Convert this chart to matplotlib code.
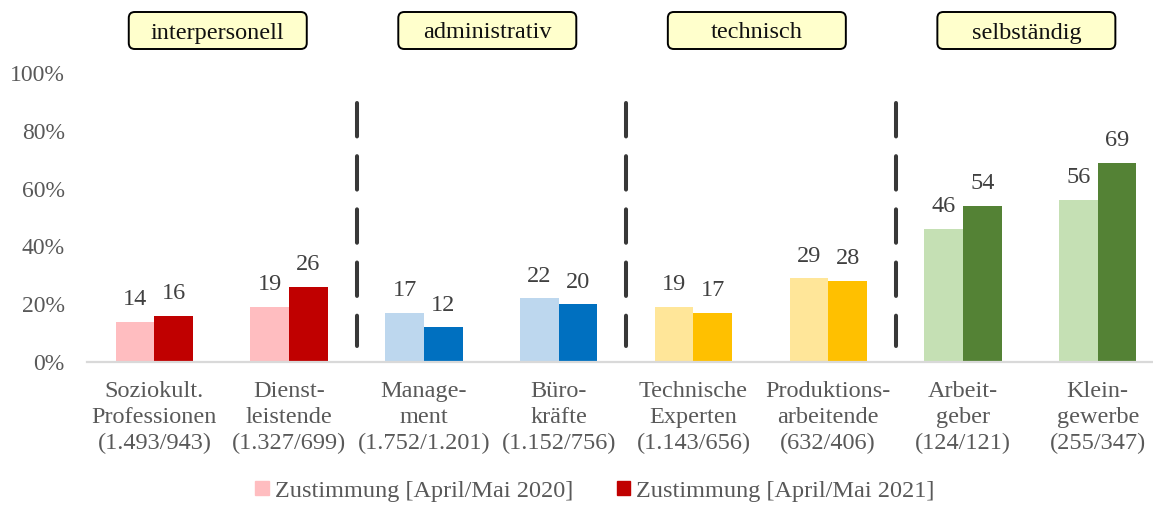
import matplotlib
matplotlib.use("Agg")
import matplotlib.pyplot as plt
import numpy as np
from matplotlib.patches import FancyBboxPatch, Patch

plt.rcParams["font.family"] = ["Liberation Serif", "DejaVu Serif"]

# data
categories = [
    "Soziokult.\nProfessionen\n(1.493/943)",
    "Dienst-\nleistende\n(1.327/699)",
    "Manage-\nment\n(1.752/1.201)",
    "Büro-\nkräfte\n(1.152/756)",
    "Technische\nExperten\n(1.143/656)",
    "Produktions-\narbeitende\n(632/406)",
    "Arbeit-\ngeber\n(124/121)",
    "Klein-\ngewerbe\n(255/347)",
]
zust_2020 = [14, 19, 17, 22, 19, 29, 46, 56]
zust_2021 = [16, 26, 12, 20, 17, 28, 54, 69]
series_names = ["Zustimmung [April/Mai 2020]", "Zustimmung [April/Mai 2021]"]
groups = ["interpersonell", "administrativ", "technisch", "selbständig"]

light_colors = ["#FFBDC0", "#FFBDC0", "#BDD7EE", "#BDD7EE",
                "#FFE699", "#FFE699", "#C5E0B4", "#C5E0B4"]
dark_colors = ["#C00000", "#C00000", "#0070C0", "#0070C0",
               "#FFC000", "#FFC000", "#548235", "#548235"]

W, H, DPI = 1153, 505, 100
fig = plt.figure(figsize=(W / DPI, H / DPI), dpi=DPI)
left_px, base_px, top_px = 87, 362, 73
ax = fig.add_axes([left_px / W, (H - base_px) / H,
                   (W - left_px) / W, (base_px - top_px) / H])

x = np.arange(len(categories))
bw = 0.287
ax.bar(x - bw / 2, zust_2020, bw, color=light_colors, zorder=2)
ax.bar(x + bw / 2, zust_2021, bw, color=dark_colors, zorder=2)

for xi, v in zip(x - bw / 2, zust_2020):
    ax.annotate(str(v), (xi, v), xytext=(0, 12), textcoords="offset points",
                ha="center", va="baseline", fontsize=17.5, color="#404040")
for xi, v in zip(x + bw / 2, zust_2021):
    ax.annotate(str(v), (xi, v), xytext=(0, 12), textcoords="offset points",
                ha="center", va="baseline", fontsize=17.5, color="#404040")

# separators between the groups
for sx in [1.5, 3.5, 5.5]:
    ax.plot([sx, sx], [89.6, 5.5], color="#383838", lw=2.9,
            dash_capstyle="round", dashes=(8.3, 4.9), zorder=1)

ax.axhline(0, color="#D9D9D9", lw=1.6, zorder=3, clip_on=False)

ax.set_xlim(-0.5, 7.41)
ax.set_ylim(0, 100)
ax.set_yticks(range(0, 101, 20))
ax.set_yticklabels([f"{t}%" for t in range(0, 101, 20)])
ax.set_xticks(x)
ax.set_xticklabels(categories, linespacing=1.3)
ax.tick_params(axis="y", length=0, pad=16, labelsize=17, labelcolor="#595959")
ax.tick_params(axis="x", length=0, pad=14, labelsize=17.5, labelcolor="#595959")
for s in ax.spines.values():
    s.set_visible(False)

# group boxes on top
fig.canvas.draw()
for i, g in enumerate(groups):
    cx = ax.transData.transform((2 * i + 0.5, 0))[0] / DPI - 0.04
    box = FancyBboxPatch((cx - 0.89, (H - 49) / DPI), 1.78, 0.37,
                         boxstyle="round,pad=0,rounding_size=0.06",
                         transform=fig.dpi_scale_trans, facecolor="#FFFFCC",
                         edgecolor="black", lw=1.4)
    fig.patches.append(box)
    fig.text(cx, (H - 33) / DPI, g, transform=fig.dpi_scale_trans,
             ha="center", va="center", fontsize=17.5, color="#111111")

handles = [Patch(color=light_colors[0]), Patch(color=dark_colors[0])]
fig.legend(handles, series_names, loc="center", bbox_to_anchor=(595 / W, 1 - 491 / H),
           ncol=2, frameon=False, fontsize=17.5, handlelength=0.55, handleheight=0.55,
           handletextpad=0.25, columnspacing=1.8, labelcolor="#595959")

fig.savefig("out.png", dpi=DPI)
